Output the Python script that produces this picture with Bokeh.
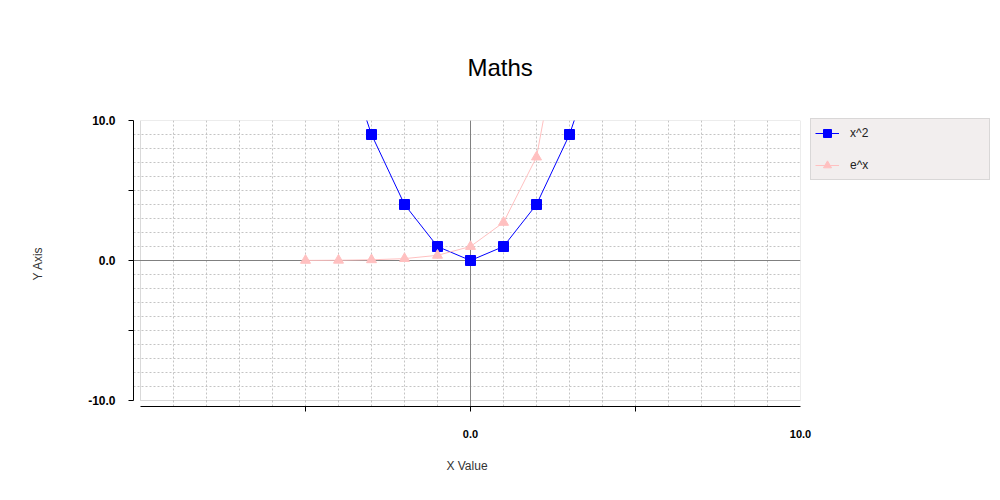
from bokeh.plotting import figure
from bokeh.models import (Range1d, FixedTicker, Grid, Legend, LegendItem,
                          BoxAnnotation, PrintfTickFormatter)
from bokeh.embed import file_html
from bokeh.resources import INLINE

# ---- data ----
x_sq = [-5, -4, -3, -2, -1, 0, 1, 2, 3, 4, 5]
y_sq = [25, 16, 9, 4, 1, 0, 1, 4, 9, 16, 25]
x_exp = [-5, -4, -3, -2, -1, 0, 1, 2, 3]
y_exp = [0.0067, 0.018, 0.05, 0.135, 0.37, 1.0, 2.72, 7.39, 20.09]
series_names = ["x^2", "e^x"]
title_text = "Maths"
x_label = "X Value"
y_label = "Y Axis"
y_ticks = [-10, 0, 10]
y_minor = [-5, 5]
x_ticks = [0, 10]
x_minor = [-5, 0, 5]
grid_ticks = [v for v in range(-9, 10)]

FONT = "Liberation Sans"

xr = Range1d(-10 - 7 / 33, 10)
yr = Range1d(-10 - 6 / 14, 10)

p = figure(frame_width=667, frame_height=286, x_range=xr, y_range=yr,
           output_backend="svg", toolbar_location=None,
           min_border_left=133, min_border_right=200,
           min_border_top=120, min_border_bottom=94,
           background_fill_color="white", border_fill_color="white")
p.outline_line_color = None
p.grid.visible = False

p.title.text = title_text
p.title.text_font = FONT
p.title.text_font_size = "24px"
p.title.text_font_style = "normal"
p.title.text_color = "black"
p.title.align = "left"
p.title.offset = 334
p.title.standoff = 79

# dashed grid
p.add_layout(Grid(dimension=0, ticker=FixedTicker(ticks=grid_ticks),
                  grid_line_color="#c4c4c4", grid_line_dash="2 2",
                  bounds=(-10, 10)))
p.add_layout(Grid(dimension=1, ticker=FixedTicker(ticks=grid_ticks),
                  grid_line_color="#c4c4c4", grid_line_dash="2 2",
                  bounds=(-10, 10)))
# zero lines
p.add_layout(Grid(dimension=0, ticker=FixedTicker(ticks=[0]),
                  grid_line_color="#808080", bounds=(-10, 10)))
p.add_layout(Grid(dimension=1, ticker=FixedTicker(ticks=[0]),
                  grid_line_color="#808080", bounds=(-10, 10)))
# plot area border
p.add_layout(BoxAnnotation(left=-10, right=10, bottom=-10, top=10,
                           fill_color=None, line_color="#808080", line_width=1,
                           level="underlay"))

# axes
for ax in (p.xaxis[0], p.yaxis[0]):
    ax.bounds = (-10, 10)
    ax.axis_line_color = "black"
    ax.major_tick_line_color = "black"
    ax.minor_tick_line_color = "black"
    ax.major_tick_in = 0
    ax.minor_tick_in = 0
    ax.major_label_text_font = FONT
    ax.major_label_text_font_style = "bold"
    ax.major_label_text_color = "black"
    ax.axis_label_text_font = FONT
    ax.axis_label_text_font_style = "normal"
    ax.axis_label_text_font_size = "12px"
    ax.axis_label_text_color = "#333333"
    ax.formatter = PrintfTickFormatter(format="%.1f")

p.yaxis.ticker = FixedTicker(ticks=y_ticks, minor_ticks=y_minor)
p.yaxis.major_label_text_font_size = "12px"
p.yaxis.major_tick_out = 5
p.yaxis.minor_tick_out = 5
p.yaxis.major_label_standoff = 13
p.yaxis.axis_label = y_label
p.yaxis.axis_label_standoff = 40

p.xaxis.ticker = FixedTicker(ticks=x_ticks, minor_ticks=x_minor)
p.xaxis.major_label_text_font_size = "11px"
p.xaxis.major_tick_out = 0
p.xaxis.minor_tick_out = 5
p.xaxis.major_label_standoff = 18
p.xaxis.axis_label = x_label
p.xaxis.axis_label_standoff = 18

# series
l1 = p.line(x_sq, y_sq, line_color="#0000ff", line_width=1)
m1 = p.scatter(x_sq, y_sq, marker="square", size=10, fill_color="#0000ff",
               line_color="#0000ff")
l2 = p.line(x_exp, y_exp, line_color="#ffc0c0", line_width=1)
m2 = p.scatter(x_exp, y_exp, marker="triangle", size=10, fill_color="#ffc0c0",
               line_color="#ffc0c0")

legend = Legend(items=[LegendItem(label=series_names[0], renderers=[l1, m1]),
                       LegendItem(label=series_names[1], renderers=[l2, m2])],
                location=(10, 226), margin=0, padding=4, spacing=12,
                glyph_width=24, glyph_height=20, label_height=20,
                label_standoff=11,
                label_width=135, label_text_font=FONT,
                label_text_font_size="12px", label_text_color="#222222",
                background_fill_color="#f2eeee", background_fill_alpha=1,
                border_line_color="#c0c0c0")
p.add_layout(legend, "right")

open("out.html", "w").write(file_html(p, INLINE))
